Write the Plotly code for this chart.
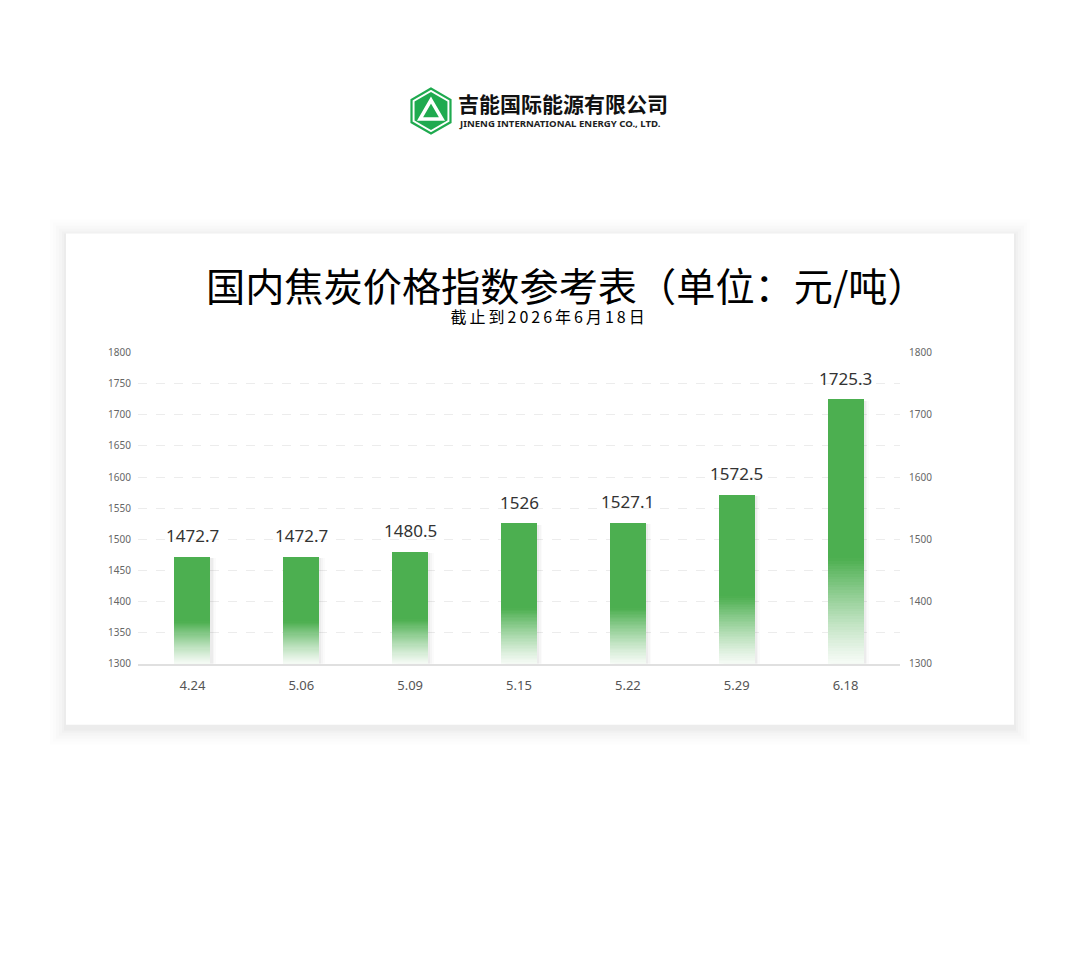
import plotly.graph_objects as go
import math

# ---------------- data ----------------
dates = ["4.24", "5.06", "5.09", "5.15", "5.22", "5.29", "6.18"]
prices = [1472.7, 1472.7, 1480.5, 1526, 1527.1, 1572.5, 1725.3]
label_text = ["1472.7", "1472.7", "1480.5", "1526", "1527.1", "1572.5", "1725.3"]
y_min, y_max = 1300, 1800

W, H = 1080, 957
GREEN = (76, 175, 80)

# the captured picture maps page row y to 6.5 + 0.985*y; compensate
Y_OFF, Y_SCALE = 6.5, 0.985


def px(x):
    return x / W


def py(y):
    return 1 - ((y - Y_OFF) / Y_SCALE) / H


def mix_white(t):
    r = round(255 + (GREEN[0] - 255) * t)
    g = round(255 + (GREEN[1] - 255) * t)
    b = round(255 + (GREEN[2] - 255) * t)
    return f"rgb({r},{g},{b})"


fig = go.Figure()

BAR_W = 0.33
OFF = -BAR_W / 2
heights = [v - y_min for v in prices]

# soft shadow behind bars (right side)
for dx, a in [(0.05, 0.015), (0.035, 0.025), (0.02, 0.035)]:
    fig.add_trace(go.Bar(
        x=dates, y=[h - 2 for h in heights], base=[y_min] * len(prices),
        width=BAR_W, offset=OFF + dx,
        marker=dict(color=f"rgba(0,0,0,{a})", line=dict(width=0)),
        hoverinfo="skip", showlegend=False))

# solid upper part
FADE = 0.40
N = 40
fade_top = [y_min + FADE * h for h in heights]
fig.add_trace(go.Bar(
    x=dates, y=[v - f for v, f in zip(prices, fade_top)], base=fade_top,
    width=BAR_W, offset=OFF,
    marker=dict(color="rgb(76,175,80)", line=dict(width=0)),
    hovertemplate="%{x}: %{customdata}<extra></extra>", customdata=prices,
    showlegend=False))

# gradient lower part (opaque colours blended towards white)
for k in range(N):
    t = (k + 0.5) / N
    strength = 0.05 + 0.95 * (t ** 1.2)
    seg_base = [y_min + FADE * h * k / N for h in heights]
    seg_h = [FADE * h / N * 1.05 for h in heights]
    fig.add_trace(go.Bar(
        x=dates, y=seg_h, base=seg_base, width=BAR_W, offset=OFF,
        marker=dict(color=mix_white(strength), line=dict(width=0)),
        hoverinfo="skip", showlegend=False))

# invisible trace for right axis
fig.add_trace(go.Scatter(x=dates, y=prices, yaxis="y2", mode="markers",
                         marker=dict(opacity=0), hoverinfo="skip", showlegend=False))

shapes = []
# card shadow (soft, all sides, a bit stronger below)
card = (66, 233, 1014, 724)
for grow, a in [(16, 0.006), (13, 0.008), (10, 0.010), (7, 0.013), (4, 0.016), (2, 0.02)]:
    shapes.append(dict(type="rect", xref="paper", yref="paper",
                       x0=px(card[0] - grow), x1=px(card[2] + grow),
                       y0=py(card[3] + grow + 4), y1=py(card[1] - grow + 2),
                       fillcolor=f"rgba(0,0,0,{a})", line=dict(width=0), layer="below"))
shapes.append(dict(type="rect", xref="paper", yref="paper",
                   x0=px(card[0]), x1=px(card[2]), y0=py(card[3]), y1=py(card[1]),
                   fillcolor="white", line=dict(width=0), layer="below"))


# logo hexagon
def hexpath(cx, cy, r):
    pts = []
    for i in range(6):
        ang = math.radians(90 + 60 * i)
        pts.append((cx + r * math.cos(ang), cy - r * math.sin(ang)))
    return "M " + " L ".join(f"{px(x):.5f},{py(y):.5f}" for x, y in pts) + " Z"


cx, cy = 431, 110.5
for r, col, lw in [(22.5, "white", 2.2), (19, "#1faa4f", 0)]:
    shapes.append(dict(type="path", xref="paper", yref="paper", path=hexpath(cx, cy, r),
                       fillcolor=col, line=dict(width=lw, color="#1faa4f"), layer="above"))
tri = [(431, 99.5), (442, 118.5), (420, 118.5)]
tri_path = "M " + " L ".join(f"{px(x):.5f},{py(y):.5f}" for x, y in tri) + " Z"
shapes.append(dict(type="path", xref="paper", yref="paper", path=tri_path,
                   fillcolor="rgba(0,0,0,0)", line=dict(color="white", width=3.5), layer="above"))

annotations = [
    dict(text="<b>吉能国际能源有限公司</b>", x=px(456), y=py(102), xref="paper", yref="paper",
         xanchor="left", yanchor="middle", showarrow=False,
         font=dict(size=21, color="#111111", family="Noto Sans CJK SC")),
    dict(text="<b>JINENG INTERNATIONAL ENERGY CO., LTD.</b>", x=px(457), y=py(122.5),
         xref="paper", yref="paper", xanchor="left", yanchor="middle", showarrow=False,
         font=dict(size=9.6, color="#222222", family="Noto Sans, sans-serif")),
    dict(text="国内焦炭价格指数参考表（单位：元/吨）", x=px(566), y=py(283), xref="paper", yref="paper",
         xanchor="center", yanchor="middle", showarrow=False,
         font=dict(size=39.2, color="#000000", family="Noto Sans CJK SC")),
    dict(text="截止到2026年6月18日", x=px(549), y=py(315.5), xref="paper", yref="paper",
         xanchor="center", yanchor="middle", showarrow=False,
         font=dict(size=16, color="#000000", family="Noto Sans CJK SC")),
]

# value labels above bars (category index positions)
for i, (v, t) in enumerate(zip(prices, label_text)):
    annotations.append(dict(text=t, x=i, y=v, xref="x", yref="y", xanchor="center",
                            yanchor="bottom", yshift=7, showarrow=False,
                            font=dict(size=17, color="#333333",
                                      family="Noto Sans, Open Sans, sans-serif")))

tickfont = dict(size=10, color="#666666", family="Noto Sans, Open Sans, sans-serif")

fig.update_layout(
    width=W, height=H,
    margin=dict(l=0, r=0, t=0, b=0),
    paper_bgcolor="white", plot_bgcolor="rgba(0,0,0,0)",
    barmode="overlay", bargap=0,
    shapes=shapes, annotations=annotations,
    xaxis=dict(domain=[px(138), px(900)], type="category",
               showgrid=False, showline=True, linecolor="#e0e0e0", linewidth=1.5,
               ticks="outside", ticklen=9, tickcolor="rgba(0,0,0,0)",
               tickfont=dict(size=13, color="#555555", family="Noto Sans, Open Sans, sans-serif"),
               zeroline=False, fixedrange=True),
    yaxis=dict(domain=[py(663), py(352)], range=[y_min, y_max], dtick=50,
               showgrid=True, gridcolor="#ececec", griddash="dash", gridwidth=1,
               showline=False, zeroline=False,
               ticks="outside", ticklen=4, tickcolor="rgba(0,0,0,0)",
               tickfont=tickfont, fixedrange=True),
    yaxis2=dict(overlaying="y", side="right", range=[y_min, y_max], dtick=100,
                showgrid=False, showline=False, zeroline=False,
                ticks="outside", ticklen=6, tickcolor="rgba(0,0,0,0)",
                tickfont=tickfont, fixedrange=True),
    showlegend=False,
)

post = """
document.body.style.margin='0';
document.body.style.overflow='hidden';
document.querySelectorAll('text.annotation-text').forEach(function(t){
  if (t.textContent.indexOf('截止到') === 0) { t.style.letterSpacing = '3px'; }
});
"""

fig.write_html("out.html", config={"displayModeBar": False}, post_script=post)
